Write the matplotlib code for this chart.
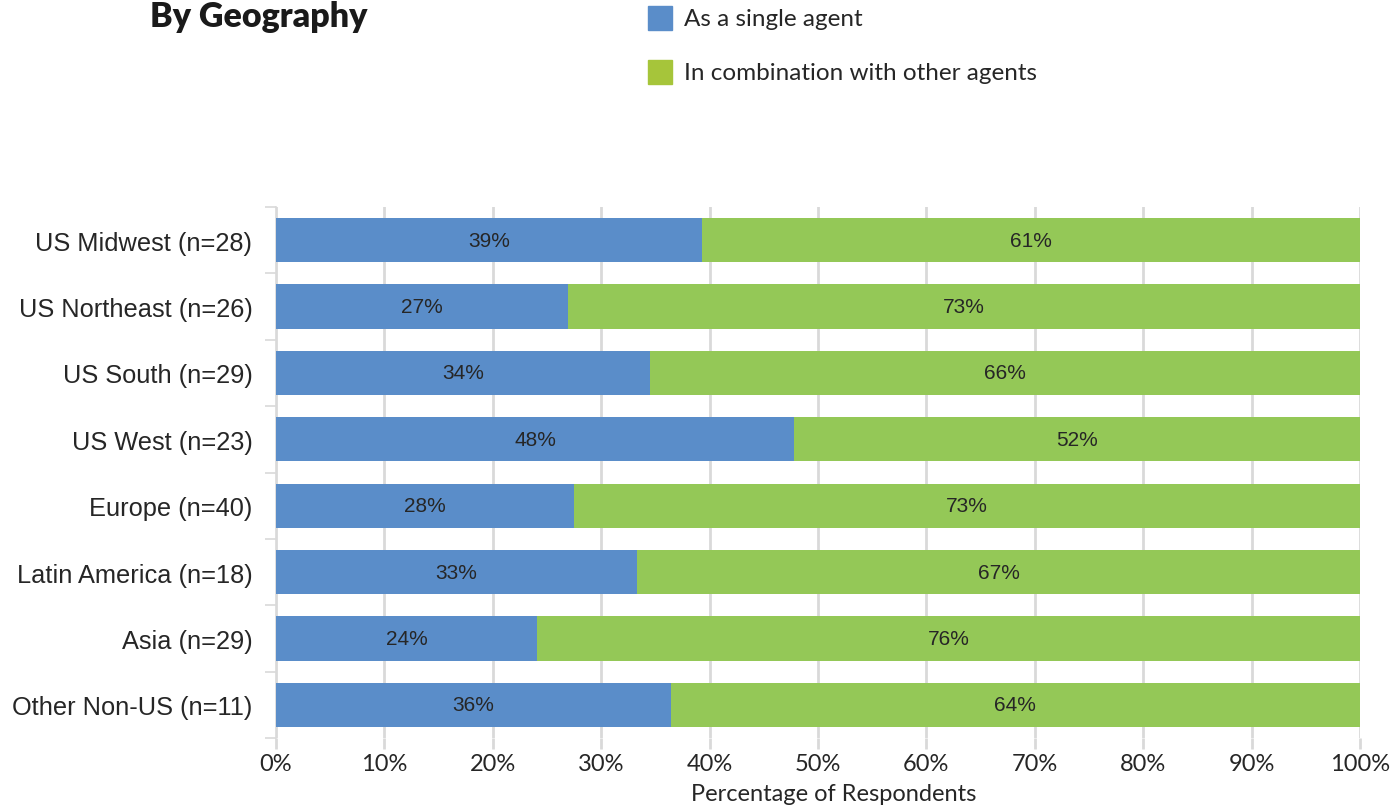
import matplotlib
matplotlib.use("Agg")
import matplotlib.pyplot as plt
from matplotlib.patches import Rectangle
import numpy as np

categories = ["US Midwest (n=28)", "US Northeast (n=26)", "US South (n=29)", "US West (n=23)",
              "Europe (n=40)", "Latin America (n=18)", "Asia (n=29)", "Other Non-US (n=11)"]
single = [39.3, 26.9, 34.5, 47.8, 27.5, 33.3, 24.1, 36.4]
combo = [60.7, 73.1, 65.5, 52.2, 72.5, 66.7, 75.9, 63.6]
single_labels = ["39%", "27%", "34%", "48%", "28%", "33%", "24%", "36%"]
combo_labels = ["61%", "73%", "66%", "52%", "73%", "67%", "76%", "64%"]
xticks = [0, 10, 20, 30, 40, 50, 60, 70, 80, 90, 100]
xtick_labels = [f"{t}%" for t in xticks]
series_names = ["As a single agent", "In combination with other agents"]

BLUE = "#5A8DC9"
GREEN = "#94C857"
LEG_GREEN = "#A6C53A"
GRID = "#D9D9D9"

fig = plt.figure(figsize=(13.92, 8.12), dpi=100)
ax = fig.add_axes([276/1392, 1-739/812, (1360-276)/1392, (739-208)/812])

y = np.arange(len(categories))
h = 0.665
ax.barh(y, single, height=h, color=BLUE, zorder=3)
ax.barh(y, combo, left=single, height=h, color=GREEN, zorder=3)

for i in range(len(categories)):
    ax.text(single[i]/2, y[i], single_labels[i], ha="center", va="center",
            fontsize=15, family="Liberation Sans", color="#262626", zorder=4)
    ax.text(single[i] + combo[i]/2, y[i], combo_labels[i], ha="center", va="center",
            fontsize=15, family="Liberation Sans", color="#262626", zorder=4)

ax.set_xlim(0, 100)
ax.set_ylim(len(categories)-0.5, -0.5)
ax.set_yticks(y)
ax.set_yticklabels(categories, fontsize=18.3, family="Liberation Sans", color="#262626")
ax.set_yticks(np.arange(-0.5, len(categories)), minor=True)
ax.tick_params(axis="y", which="major", length=0, pad=17)
ax.tick_params(axis="y", which="minor", length=8, width=1.2, color=GRID, direction="out")

ax.set_xticks(xticks)
ax.set_xticklabels(xtick_labels, fontsize=17, family="Lato", color="#262626")
ax.tick_params(axis="x", length=8, width=2, color=GRID, pad=3)
ax.grid(axis="x", color=GRID, linewidth=2, zorder=0)
ax.set_xlabel("Percentage of Respondents", fontsize=17, family="Lato", color="#262626")
ax.xaxis.set_label_coords((834-276)/1084, -(795-739)/531)
ax.xaxis.label.set_va("center")

for s in ["top", "right", "bottom"]:
    ax.spines[s].set_visible(False)
ax.spines["left"].set_color(GRID)
ax.spines["left"].set_linewidth(1.2)

fig.text(150/1392, 1-17/812, "By Geography", fontsize=24.5, fontweight="heavy",
         family="Lato", color="#1a1a1a", ha="left", va="center")

# legend
for k, (name, col) in enumerate(zip(series_names, [BLUE, LEG_GREEN])):
    yc = 19 + k*54
    fig.patches.append(Rectangle((648/1392, 1-(yc+12)/812), 24/1392, 24/812,
                                 transform=fig.transFigure, color=col))
    fig.text(684/1392, 1-yc/812, name, fontsize=17.5, family="Lato",
             color="#262626", ha="left", va="center")

fig.savefig("out.png", dpi=100)
